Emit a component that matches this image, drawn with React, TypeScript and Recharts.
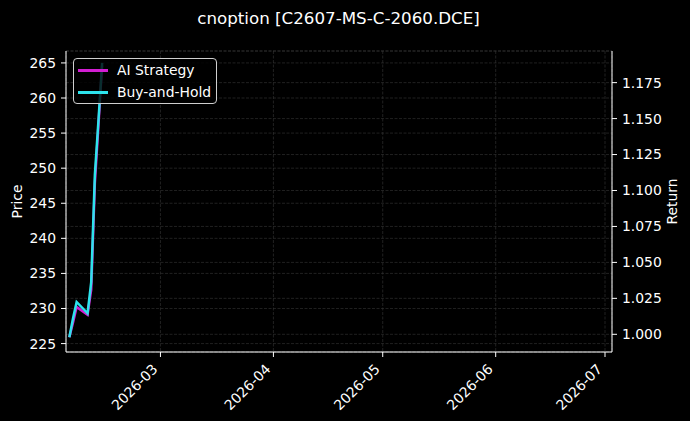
import React from 'react';
import { LineChart, Line, XAxis, YAxis, CartesianGrid } from 'recharts';

const dates = ['2026-02-04', '2026-02-05', '2026-02-06', '2026-02-09', '2026-02-10', '2026-02-11', '2026-02-12', '2026-02-13'];
const aiStrategy = [0.998, 1.008, 1.019, 1.0135, 1.031, 1.105, 1.146, 1.187];
const buyAndHold = [0.998, 1.011, 1.0225, 1.0146, 1.0362, 1.1107, 1.149, 1.1887];

const monthTicks = ['2026-03-01', '2026-04-01', '2026-05-01', '2026-06-01', '2026-07-01'];
const priceTicks = [225, 230, 235, 240, 245, 250, 255, 260, 265];
const returnTicks = [1.0, 1.025, 1.05, 1.075, 1.1, 1.125, 1.15, 1.175];

const data = dates.map((d, i) => ({ t: Date.parse(d), ai: aiStrategy[i], bh: buyAndHold[i] }));
const xTicks = monthTicks.map((d) => Date.parse(d));
const xDomain = [Date.UTC(2026, 1, 3, 2), Date.UTC(2026, 6, 2, 22)];

const FONT = '"DejaVu Sans", sans-serif';
const AI_COLOR = '#d21ed2';
const BH_COLOR = '#2de3ec';
const GRID = '#363636';

const fmtMonth = (v: number) => {
  const d = new Date(v);
  return `${d.getUTCFullYear()}-${String(d.getUTCMonth() + 1).padStart(2, '0')}`;
};

const DateTick = (props: any) => {
  const { x, y, payload } = props;
  return (
    <g transform={`translate(${x - 2},${y + 8})`}>
      <text x={0} y={0} textAnchor="end" fill="#fff" fontSize={13.9} fontFamily={FONT} transform="rotate(-45)">
        {fmtMonth(payload.value)}
      </text>
    </g>
  );
};

const AxisTitle = (props: any) => {
  const { viewBox, text, side } = props;
  if (!viewBox) return null;
  const cx = side === 'left' ? viewBox.x + 7 : viewBox.x + 60;
  const cy = viewBox.y + viewBox.height / 2;
  return (
    <text
      x={cx}
      y={cy}
      textAnchor="middle"
      dominantBaseline="central"
      fill="#fff"
      fontSize={13.9}
      fontFamily={FONT}
      transform={`rotate(-90 ${cx} ${cy})`}
    >
      {text}
    </text>
  );
};

const LegendRow = ({ color, label }: { color: string; label: string }) => (
  <div style={{ display: 'flex', alignItems: 'center', height: 21.7 }}>
    <div style={{ width: 30, height: 3, background: color, marginLeft: 4, marginRight: 9 }} />
    <span style={{ color: '#fff', fontSize: 13.9, fontFamily: FONT }}>{label}</span>
  </div>
);

export default function App() {
  return (
    <div style={{ position: 'absolute', left: 0, top: 0, width: 690, height: 421, background: '#000', overflow: 'hidden' }}>
      <div
        style={{
          position: 'absolute',
          top: 8,
          left: 66,
          width: 545,
          textAlign: 'center',
          color: '#fff',
          fontFamily: FONT,
          fontSize: 16.7,
          lineHeight: '20px',
        }}
      >
        cnoption [C2607-MS-C-2060.DCE]
      </div>
      <LineChart width={690} height={421} data={data} margin={{ top: 51, right: 8, bottom: 9, left: 10 }}>
        <CartesianGrid xAxisId="x" yAxisId="price" stroke={GRID} strokeDasharray="3 1.5" strokeWidth={0.6} horizontal vertical />
        <CartesianGrid xAxisId="x" yAxisId="ret" stroke={GRID} strokeDasharray="3 1.5" strokeWidth={0.6} vertical={false} />
        <XAxis
          xAxisId="x"
          dataKey="t"
          type="number"
          scale="time"
          domain={xDomain}
          ticks={xTicks}
          allowDataOverflow
          height={60}
          stroke="#fff"
          tickSize={5}
          tickMargin={5}
          tick={<DateTick />}
          interval={0}
        />
        <XAxis
          xAxisId="top"
          orientation="top"
          dataKey="t"
          type="number"
          domain={xDomain}
          allowDataOverflow
          height={0}
          tick={false}
          tickLine={false}
          stroke="#fff"
        />
        <YAxis
          yAxisId="price"
          orientation="left"
          type="number"
          domain={[223.8, 266.7]}
          ticks={priceTicks}
          allowDataOverflow
          width={56}
          stroke="#fff"
          tickSize={5}
          tickMargin={5}
          interval={0}
          tick={{ fill: '#fff', fontSize: 13.9, fontFamily: FONT }}
          label={<AxisTitle text="Price" side="left" />}
        />
        <YAxis
          yAxisId="ret"
          orientation="right"
          type="number"
          domain={[0.9877, 1.197]}
          ticks={returnTicks}
          allowDataOverflow
          width={70}
          stroke="#fff"
          tickSize={5}
          tickMargin={5}
          interval={0}
          tickFormatter={(v: number) => v.toFixed(3)}
          tick={{ fill: '#fff', fontSize: 13.9, fontFamily: FONT }}
          label={<AxisTitle text="Return" side="right" />}
        />
        <Line
          xAxisId="x"
          yAxisId="ret"
          type="linear"
          dataKey="ai"
          stroke={AI_COLOR}
          strokeWidth={2.5}
          dot={false}
          isAnimationActive={false}
        />
        <Line
          xAxisId="x"
          yAxisId="ret"
          type="linear"
          dataKey="bh"
          stroke={BH_COLOR}
          strokeWidth={2.5}
          dot={false}
          isAnimationActive={false}
        />
      </LineChart>
      <div
        style={{
          position: 'absolute',
          left: 73,
          top: 58,
          width: 142,
          padding: '0.5px 0',
          border: '1px solid #cfcfcf',
          borderRadius: 4,
          background: 'rgba(0,0,0,0.8)',
          boxSizing: 'content-box',
        }}
      >
        <LegendRow color={AI_COLOR} label="AI Strategy" />
        <LegendRow color={BH_COLOR} label="Buy-and-Hold" />
      </div>
    </div>
  );
}
